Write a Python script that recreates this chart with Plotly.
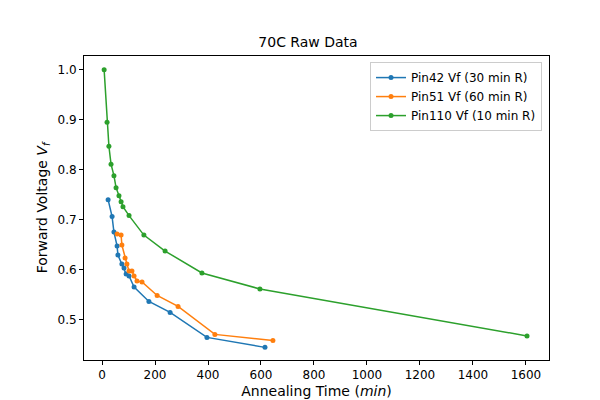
import plotly.graph_objects as go

pin42_t = [23, 38, 45, 57, 60, 75, 83, 91, 102, 121, 177, 257, 396, 615]
pin42_vf = [0.740, 0.706, 0.675, 0.647, 0.629, 0.611, 0.603, 0.591, 0.587, 0.565, 0.536, 0.514, 0.464, 0.444]

pin51_t = [57, 72, 75, 87, 94, 102, 113, 121, 132, 151, 208, 287, 426, 645]
pin51_vf = [0.671, 0.669, 0.649, 0.623, 0.611, 0.597, 0.597, 0.587, 0.577, 0.575, 0.548, 0.526, 0.470, 0.458]

pin110_t = [8, 19, 26, 34, 45, 53, 64, 72, 79, 102, 158, 238, 377, 596, 1604]
pin110_vf = [1.0, 0.895, 0.847, 0.811, 0.788, 0.764, 0.748, 0.736, 0.726, 0.708, 0.669, 0.637, 0.593, 0.561, 0.467]

series = [
    ("Pin42 Vf (30 min R)", pin42_t, pin42_vf, "#1f77b4"),
    ("Pin51 Vf (60 min R)", pin51_t, pin51_vf, "#ff7f0e"),
    ("Pin110 Vf (10 min R)", pin110_t, pin110_vf, "#2ca02c"),
]

fig = go.Figure()
for name, t, vf, col in series:
    fig.add_trace(go.Scatter(x=t, y=vf, name=name, mode="lines+markers",
                             line=dict(color=col, width=1.5),
                             marker=dict(color=col, size=5)))

axis = dict(showgrid=False, zeroline=False, showline=True, mirror=True,
            linecolor="black", linewidth=1, ticks="outside", ticklen=4,
            tickcolor="black", tickfont=dict(size=12))

fig.update_layout(
    width=600, height=400,
    margin=dict(l=76, r=59, t=48, b=45),
    paper_bgcolor="white", plot_bgcolor="white",
    font=dict(family="DejaVu Sans", color="black", size=12),
    title=dict(text="70C Raw Data", x=0.5, xanchor="center", y=0.915, yanchor="middle",
               font=dict(size=14, weight="normal")),
    xaxis=dict(axis, range=[-68, 1687], tickvals=list(range(0, 1601, 200)),
               title=dict(text="Annealing Time (<i>min</i>)", standoff=4)),
    yaxis=dict(axis, range=[0.4187, 1.0278], tickvals=[0.5, 0.6, 0.7, 0.8, 0.9, 1.0],
               tickformat=".1f",
               title=dict(text="Forward Voltage <i>V<sub>f</sub></i>", standoff=6)),
    legend=dict(x=0.985, y=0.98, xanchor="right", yanchor="top",
                bordercolor="#cccccc", borderwidth=1, bgcolor="white",
                font=dict(size=12)),
)

fig.write_html("out.html")
